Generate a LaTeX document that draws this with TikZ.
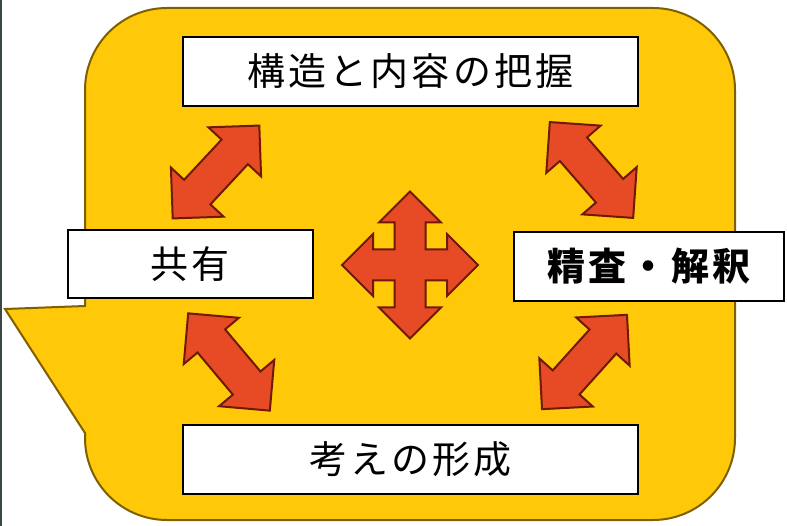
\documentclass[tikz,border=0pt]{standalone}
\usepackage{fontspec}
\newfontfamily\jp[LetterSpace=8]{Noto Sans CJK JP}
\definecolor{bubblefill}{RGB}{255,200,8}
\definecolor{bubbleedge}{RGB}{127,96,0}
\definecolor{arrowfill}{RGB}{230,75,37}
\definecolor{arrowedge}{RGB}{110,25,10}
\definecolor{sideline}{RGB}{60,72,72}
\tikzset{
  bubble/.style={fill=bubblefill, draw=bubbleedge, line width=2pt},
  box/.style={draw=black, fill=white, line width=2.5pt, inner sep=0pt, font=\jp\fontsize{38}{40}\selectfont},
  arrowsty/.style={fill=arrowfill, draw=arrowedge, line width=2pt, line join=miter},
  darr/.pic={\draw[arrowsty] (63.5,0) -- (27.5,36) -- (27.5,18) -- (-27.5,18) -- (-27.5,36) -- (-63.5,0) -- (-27.5,-36) -- (-27.5,-18) -- (27.5,-18) -- (27.5,-36) -- cycle;}
}
\begin{document}
\begin{tikzpicture}[x=1pt,y=-1pt]
\useasboundingbox (0,0) rectangle (787,526);
\fill[white] (0,0) rectangle (787,526);
\draw[sideline, line width=1.5pt] (1,0) -- (1,526);
% callout
\draw[bubble] (85,306) -- (85,90) arc(180:270:82) -- (653,8) arc(270:360:82) -- (735,438) arc(0:90:82) -- (167,520) arc(90:180:82) -- (85,433) -- (5,309) -- cycle;
% boxes
\node[box, minimum width=455pt, minimum height=69pt] (top) at (410.5,71.5) {構造と内容の把握};
\node[box, minimum width=245pt, minimum height=68pt] (share) at (190.5,264) {共有};
\node[box, minimum width=270pt, minimum height=69pt, font=\jp\bfseries\fontsize{38}{40}\selectfont] (interp) at (649,266.5) {精査・解釈};
\node[box, minimum width=455pt, minimum height=69pt] (bottom) at (410.5,459.5) {考えの形成};
% double arrows
\pic[rotate=47] (tl) at (216,172) {darr};
\pic[rotate=-49] (tr) at (591.5,170) {darr};
\pic[rotate=-50] (bl) at (229,362) {darr};
\pic[rotate=48] (br) at (584.5,362) {darr};
% four-way arrow
\draw[arrowsty, shift={(410,265)}] (0,-73.5) -- (31,-42.5) -- (15.5,-42.5) -- (15.5,-15.5) -- (37,-15.5) -- (37,-31) -- (68,0) -- (37,31) -- (37,15.5) -- (15.5,15.5) -- (15.5,42.5) -- (31,42.5) -- (0,73.5) -- (-31,42.5) -- (-15.5,42.5) -- (-15.5,15.5) -- (-37,15.5) -- (-37,31) -- (-68,0) -- (-37,-31) -- (-37,-15.5) -- (-15.5,-15.5) -- (-15.5,-42.5) -- (-31,-42.5) -- cycle;
\end{tikzpicture}
\end{document}
